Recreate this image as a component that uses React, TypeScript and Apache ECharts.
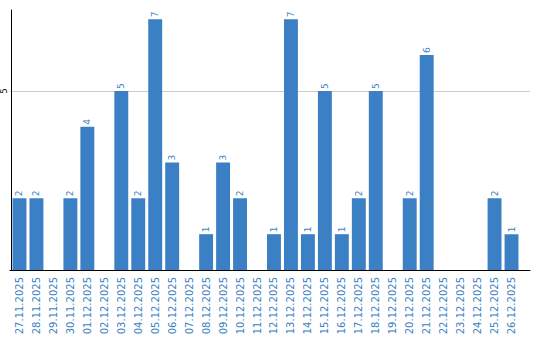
import React, { useEffect, useRef } from "react";
import * as echarts from "echarts";

const categories = [
  "27.11.2025", "28.11.2025", "29.11.2025", "30.11.2025", "01.12.2025",
  "02.12.2025", "03.12.2025", "04.12.2025", "05.12.2025", "06.12.2025",
  "07.12.2025", "08.12.2025", "09.12.2025", "10.12.2025", "11.12.2025",
  "12.12.2025", "13.12.2025", "14.12.2025", "15.12.2025", "16.12.2025",
  "17.12.2025", "18.12.2025", "19.12.2025", "20.12.2025", "21.12.2025",
  "22.12.2025", "23.12.2025", "24.12.2025", "25.12.2025", "26.12.2025",
];
const values = [
  2, 2, 0, 2, 4, 0, 5, 2, 7, 3,
  0, 1, 3, 2, 0, 1, 7, 1, 5, 1,
  2, 5, 0, 2, 6, 0, 0, 0, 2, 1,
];
const yTickLabels = [5];
const Y_MAX = 7.26;

const BLUE = "#3b7fc4";

export default function App() {
  const ref = useRef<HTMLDivElement>(null);
  useEffect(() => {
    const chart = echarts.init(ref.current!, null, { renderer: "svg" });
    chart.setOption({
      animation: false,
      grid: [
        { left: 10, right: 20, top: 10, bottom: 70, containLabel: false },
        { left: 10, right: 10, top: 10, bottom: 70, containLabel: false },
      ],
      xAxis: [
        {
          type: "category",
          gridIndex: 0,
          data: categories,
          axisLine: { show: false },
          axisTick: { show: false },
          axisLabel: {
            rotate: 90,
            interval: 0,
            margin: 7,
            color: BLUE,
            fontFamily: "DejaVu Sans",
            fontSize: 10,
          },
        },
        {
          type: "value",
          gridIndex: 1,
          min: 0,
          max: 1,
          axisLine: { show: true, lineStyle: { color: "#000", width: 1 } },
          axisTick: { show: false },
          axisLabel: { show: false },
          splitLine: { show: false },
        },
      ],
      yAxis: [
        {
          type: "value",
          gridIndex: 0,
          min: 0,
          max: Y_MAX,
          interval: 5,
          axisLine: { show: true, lineStyle: { color: "#000", width: 1 } },
          axisTick: { show: false },
          axisLabel: {
            rotate: 90,
            margin: 3,
            color: "#000",
            fontFamily: "DejaVu Sans",
            fontSize: 8,
            formatter: (v: number) => (yTickLabels.includes(v) ? String(v) : ""),
          },
          splitLine: { show: false },
        },
        {
          type: "value",
          gridIndex: 1,
          min: 0,
          max: Y_MAX,
          interval: 5,
          axisLine: { show: false },
          axisTick: { show: false },
          axisLabel: { show: false },
          splitLine: {
            show: true,
            showMinLine: false,
            showMaxLine: false,
            lineStyle: { color: "#cccccc", width: 1 },
          },
        },
      ],
      series: [
        {
          type: "bar",
          xAxisIndex: 0,
          yAxisIndex: 0,
          data: values,
          barCategoryGap: "18%",
          itemStyle: { color: BLUE },
          label: {
            show: true,
            position: "top",
            rotate: 90,
            align: "left",
            verticalAlign: "middle",
            distance: 2,
            color: BLUE,
            fontFamily: "DejaVu Sans",
            fontSize: 9,
            formatter: (p: any) => (p.value ? String(p.value) : ""),
          },
        },
      ],
    });
    return () => chart.dispose();
  }, []);
  return (
    <div
      ref={ref}
      style={{ position: "absolute", left: 0, top: 0, width: 540, height: 340, background: "#fff" }}
    />
  );
}
